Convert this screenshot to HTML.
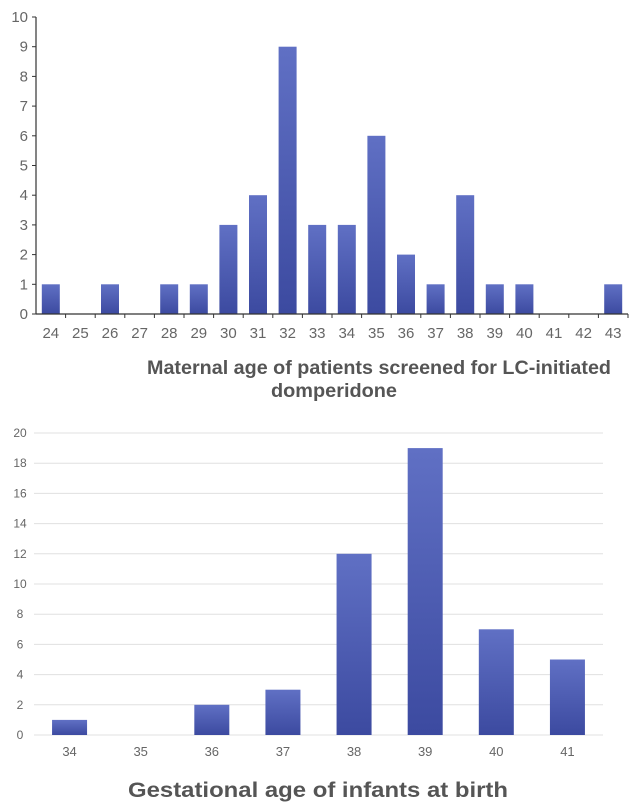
<!DOCTYPE html>
<html><head><meta charset="utf-8"><style>
body{margin:0;background:#fff;width:640px;height:806px;overflow:hidden}
svg{display:block}
</style></head><body>
<svg id="c" width="640" height="806" xmlns="http://www.w3.org/2000/svg">
<defs><linearGradient id="g" x1="0" y1="0" x2="0" y2="1"><stop offset="0" stop-color="#6070c4"/><stop offset="1" stop-color="#3c4aa0"/></linearGradient></defs>
</svg>
<script>
const cats1=["24","25","26","27","28","29","30","31","32","33","34","35","36","37","38","39","40","41","42","43"];
const vals1=[1,0,1,0,1,1,3,4,9,3,3,6,2,1,4,1,1,0,0,1];
const ticks1=[0,1,2,3,4,5,6,7,8,9,10];
const cats2=["34","35","36","37","38","39","40","41"];
const vals2=[1,0,2,3,12,19,7,5];
const ticks2=[0,2,4,6,8,10,12,14,16,18,20];
const svg=document.getElementById('c');
const NS='http://www.w3.org/2000/svg';
function mk(t,a,txt){const e=document.createElementNS(NS,t);for(const k in a)e.setAttribute(k,a[k]);if(txt!==undefined)e.textContent=txt;svg.appendChild(e);return e;}
// chart 1
const L1=36,R1=628,T1=17,B1=314,max1=10;
const y1=v=>B1-(B1-T1)*v/max1;
const bw1=(R1-L1)/cats1.length;
const x1=i=>L1+bw1*(i+0.5);
let e=mk('line',{x1:L1,y1:T1,x2:L1,y2:B1,stroke:'#333','stroke-width':1.2});

ticks1.forEach(t=>{
 e=mk('line',{x1:L1-4,y1:y1(t),x2:L1,y2:y1(t),stroke:'#333'});
 
 e=mk('text',{x:L1-8,y:y1(t)+5,'text-anchor':'end','font-family':'Liberation Sans, sans-serif','font-size':15,fill:'#666'},t);
 
});
vals1.forEach((v,i)=>{
 if(v>0){e=mk('rect',{x:x1(i)-9,y:y1(v),width:18,height:B1-y1(v),fill:'url(#g)'});
 }
});
e=mk('line',{x1:L1,y1:B1,x2:R1,y2:B1,stroke:'#333','stroke-width':1.2});

cats1.forEach((c,i)=>{
 e=mk('line',{x1:L1+bw1*(i+1),y1:B1,x2:L1+bw1*(i+1),y2:B1+4,stroke:'#333'});
 
 e=mk('text',{x:x1(i),y:B1+24,'text-anchor':'middle','font-family':'Liberation Sans, sans-serif','font-size':15,fill:'#666'},c);
 
});
e=mk('text',{x:147,y:374,'font-family':'Liberation Sans, sans-serif','font-size':19,'font-weight':'bold',fill:'#555',textLength:464,lengthAdjust:'spacingAndGlyphs'},'Maternal age of patients screened for LC-initiated');

e=mk('text',{x:271,y:397,'font-family':'Liberation Sans, sans-serif','font-size':19,'font-weight':'bold',fill:'#555',textLength:126,lengthAdjust:'spacingAndGlyphs'},'domperidone');

// chart 2
const L2=34,R2=603,T2=433,B2=735,max2=20;
const y2=v=>B2-(B2-T2)*v/max2;
const bw2=(R2-L2)/cats2.length;
const x2=i=>L2+bw2*(i+0.5);
ticks2.forEach(t=>{
 e=mk('line',{x1:L2,y1:y2(t),x2:R2,y2:y2(t),stroke:'#e0e0e0','stroke-width':1});
 
 e=mk('text',{x:20,y:y2(t)+4,'text-anchor':'middle','font-family':'Liberation Sans, sans-serif','font-size':12,fill:'#666'},t);
 
});
vals2.forEach((v,i)=>{
 if(v>0){e=mk('rect',{x:x2(i)-17.5,y:y2(v),width:35,height:B2-y2(v),fill:'url(#g)'});
 }
});
cats2.forEach((c,i)=>{
 e=mk('text',{x:x2(i),y:B2+21,'text-anchor':'middle','font-family':'Liberation Sans, sans-serif','font-size':13,fill:'#666'},c);
 
});
e=mk('text',{x:128,y:797,'font-family':'Liberation Sans, sans-serif','font-size':21,'font-weight':'bold',fill:'#555',textLength:380,lengthAdjust:'spacingAndGlyphs'},'Gestational age of infants at birth');

</script>
</body></html>
